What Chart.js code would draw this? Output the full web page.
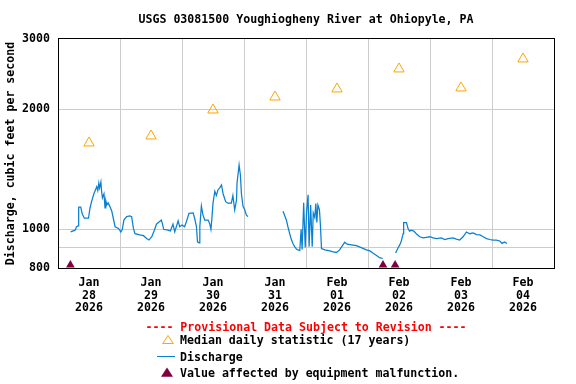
<!DOCTYPE html>
<html><head><meta charset="utf-8">
<script src="https://cdn.jsdelivr.net/npm/chart.js@4.4.1/dist/chart.umd.min.js"></script>
<style>
html,body{margin:0;padding:0;background:#fff;}
#wrap{position:relative;width:576px;height:384px;overflow:hidden;background:#fff;}
#c{position:absolute;left:0;top:0;}
.t{position:absolute;font-family:"DejaVu Sans Mono",monospace;font-weight:bold;font-size:11.6px;line-height:14px;white-space:pre;color:#000;}
#icons{position:absolute;left:0;top:0;}
</style></head><body>
<div id="wrap">
<canvas id="c" width="576" height="384"></canvas>
<svg id="icons" width="576" height="384" xmlns="http://www.w3.org/2000/svg">
  <polygon points="168,335.5 162.7,343.5 173.3,343.5" fill="none" stroke="#ffa500" stroke-width="1"/>
  <line x1="157" y1="356.5" x2="175" y2="356.5" stroke="#0a80d0" stroke-width="1"/>
  <polygon points="167,367.5 161,376.8 173,376.8" fill="#800040"/>
</svg>
<div class="t" style="left:58px;width:496px;text-align:center;top:320px;color:#ff0000">---- Provisional Data Subject to Revision ----</div>
<div class="t" style="left:180px;top:333px">Median daily statistic (17 years)</div>
<div class="t" style="left:180px;top:349.5px">Discharge</div>
<div class="t" style="left:180px;top:366px">Value affected by equipment malfunction.</div>
</div>
<script>
// ---- data (hours since Jan 28 2026 00:00) ----
const dayHours = [12, 36, 60, 84, 108, 132, 156, 180];
const dayLabels = [['Jan','28','2026'],['Jan','29','2026'],['Jan','30','2026'],['Jan','31','2026'],
                   ['Feb','01','2026'],['Feb','02','2026'],['Feb','03','2026'],['Feb','04','2026']];
const medianValues = [1646, 1714, 1991, 2146, 2248, 2523, 2261, 2673];

const seg1Hours = [4.9,6.6,7.2,7.8,8.0,8.8,9.4,10.2,11.8,12.4,13.0,13.9,15.0,15.4,15.8,16.1,16.6,16.9,17.2,17.8,18.2,18.5,18.9,19.4,20.1,20.8,21.4,22.1,23.4,23.9,24.3,24.9,25.5,26.6,27.8,28.5,29.2,29.8,31.7,33.1,34.3,35.2,36.3,37.3,38.1,40.0,40.4,40.9,42.6,43.5,44.5,45.2,46.5,47.1,48.0,49.0,49.7,50.7,52.3,52.9,53.6,54.0,54.6,54.9,55.5,56.1,56.8,58.1,58.7,59.2,59.5,60.0,60.7,61.3,61.9,62.6,63.3,63.9,64.9,65.8,67.1,67.7,68.4,69.1,69.3,70.1,70.6,71.0,71.6,72.3,72.9,73.5];
const seg1Values = [985,995,1015,1020,1137,1137,1092,1066,1066,1131,1173,1228,1279,1250,1305,1270,1314,1240,1200,1228,1131,1180,1151,1165,1140,1112,1066,1015,1005,995,985,1000,1055,1076,1080,1076,1005,975,968,964,948,940,958,995,1030,1055,1035,1000,995,990,1030,985,1050,1015,1025,1015,1045,1097,1100,1066,1015,930,925,1015,1144,1087,1055,1055,1035,1000,1050,1163,1245,1215,1255,1270,1292,1228,1173,1163,1163,1215,1118,1184,1305,1450,1370,1228,1144,1118,1087,1076];
const seg2Hours = [87.1,88.4,89.0,89.7,90.4,91.0,91.6,92.3,92.9,93.6,94.1,94.5,95.1,95.7,96.2,96.8,97.2,97.8,98.4,98.8,99.4,99.8,100.2,100.6,101.2,101.6,102.0,103.3,105.2,106.5,107.8,109.0,110.3,111.0,111.9,113.6,115.5,117.4,119.4,120.7,121.9,123.3,124.5,125.7];
const seg2Values = [1110,1055,1015,975,940,920,905,892,888,885,1000,890,1165,900,1100,1220,905,1150,905,1100,1070,1160,1040,1150,1120,1020,895,888,883,878,875,888,914,928,918,914,910,900,888,883,872,860,849,845];
const seg3Hours = [130.7,131.6,132.3,132.9,133.6,133.8,134.9,135.5,136.1,136.8,137.7,138.7,140.0,141.3,142.6,143.9,145.2,146.5,148.4,149.7,151.0,152.9,154.2,155.5,156.8,158.1,159.4,160.7,162.0,163.3,164.6,165.9,167.1,168.4,169.7,171.0,171.9,172.9,173.8];
const seg3Values = [872,898,914,935,975,1040,1040,1005,990,995,990,975,958,952,955,958,952,948,952,943,948,952,945,940,958,985,975,980,970,968,958,948,943,940,940,935,922,930,922];

const malfunctionHours = [4.8, 125.8, 130.5];
const malfunctionValues = [814, 814, 814];

const yTickValues = [800, 900, 1000, 2000, 3000];
const yTickLabels = ['800', '', '1000', '2000', '3000'];

// ---- build ----
function pts(h, v){ return h.map((x,i)=>({x:x, y:v[i]})); }
const dischargeData = [].concat(
  pts(seg1Hours, seg1Values), [{x:80, y:null}],
  pts(seg2Hours, seg2Values), [{x:128, y:null}],
  pts(seg3Hours, seg3Values));

const FONT = {family:'"DejaVu Sans Mono", monospace', size:11.6, weight:'bold'};
const al = p => Math.round(p - 0.5) + 0.5;
const framePlugin = {
  id:'frame',
  beforeDatasetsDraw(chart){
    const {ctx, chartArea:a} = chart;
    ctx.save();
    ctx.strokeStyle = '#000'; ctx.lineWidth = 1;
    ctx.strokeRect(al(a.left), al(a.top), al(a.right)-al(a.left), al(a.bottom)-al(a.top));
    ctx.restore();
  }
};

new Chart(document.getElementById('c'), {
  type:'line',
  data:{datasets:[
    {label:'Median daily statistic (17 years)', data:pts(dayHours, medianValues), showLine:false,
     pointStyle:'triangle', pointRadius:6, pointBorderColor:'#ffa500', pointBackgroundColor:'rgba(0,0,0,0)', pointBorderWidth:1},
    {label:'Discharge', data:dischargeData, borderColor:'#0a80d0', borderWidth:1.25, pointRadius:0, tension:0, spanGaps:false, fill:false},
    {label:'Value affected by equipment malfunction.', data:pts(malfunctionHours, malfunctionValues), showLine:false,
     pointStyle:'triangle', pointRadius:5, pointBorderColor:'#800040', pointBackgroundColor:'#800040', pointBorderWidth:0, clip:false}
  ]},
  options:{
    responsive:false, animation:false, events:[],
    layout:{padding:{left:0, right:22, top:0, bottom:58}},
    plugins:{
      legend:{display:false}, tooltip:{enabled:false},
      title:{display:true, fullSize:false, text:'USGS 03081500 Youghiogheny River at Ohiopyle, PA',
             color:'#000', font:FONT, padding:{top:13, bottom:12}}
    },
    scales:{
      x:{type:'linear', min:0, max:192,
         afterBuildTicks(s){ const t=[]; for(let h=0;h<=192;h+=12) t.push({value:h}); s.ticks=t; },
         afterFit(s){ s.height = 58; },
         grid:{drawTicks:false, lineWidth:1, color:(c)=> (c.tick && c.tick.value % 24 === 0) ? '#cccccc' : 'rgba(0,0,0,0)'},
         border:{display:false},
         ticks:{autoSkip:false, maxRotation:0, minRotation:0, padding:9, color:'#000',
                font:{family:FONT.family, size:FONT.size, weight:'bold', lineHeight:'12.5px'},
                callback:(v)=>{ const i = dayHours.indexOf(v); return i>=0 ? dayLabels[i] : ''; }}
      },
      y:{type:'logarithmic', min:800, max:3000,
         afterBuildTicks(s){ s.ticks = yTickValues.map(v=>({value:v})); },
         afterFit(s){ s.width = 58; },
         grid:{drawTicks:false, lineWidth:1, color:'#cccccc'},
         border:{display:false},
         ticks:{padding:8, color:'#000', font:FONT,
                callback:(v)=>{ const i = yTickValues.indexOf(v); return i>=0 ? yTickLabels[i] : ''; }},
         title:{display:true, text:'Discharge, cubic feet per second', color:'#000', font:FONT, padding:{top:4, bottom:0}}
      }
    }
  },
  plugins:[framePlugin]
});
</script>
</body></html>
